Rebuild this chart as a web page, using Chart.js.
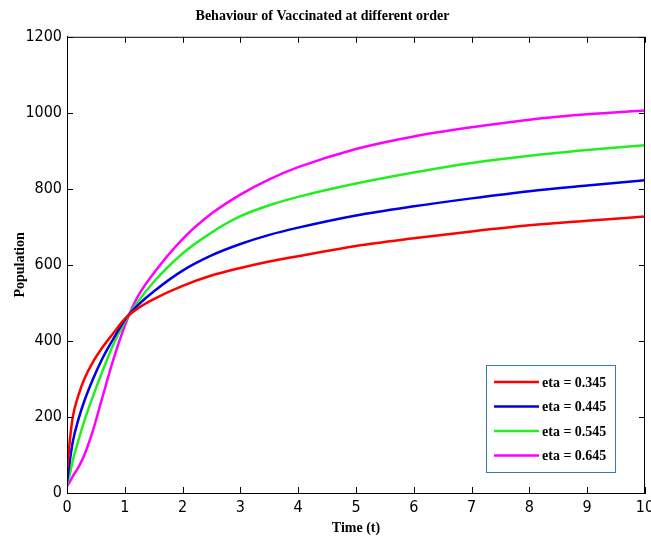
<!DOCTYPE html>
<html lang="en">
<head>
    <meta charset="UTF-8">
    <script src="https://cdn.jsdelivr.net/npm/chart.js"></script>
    <title>Behaviour of Vaccinated at different order</title>
    <style>
      body { margin: 0; background: #fff; }
      #wrap { width: 651px; height: 547px; }
    </style>
</head>
<body>
    <div id="wrap">
      <canvas id="myChart"></canvas>
    </div>

    <script>
      const timeArr = [0, 0.05, 0.1, 0.2, 0.3, 0.45, 0.6, 0.8, 1.0, 1.2, 1.5, 2, 2.5, 3, 3.5, 4, 5, 6, 7, 8, 9, 10];
      const eta345 = [55, 140, 200, 258, 300, 345, 380, 420, 458, 483, 510, 545, 572, 592, 609, 623, 650, 670, 688, 704, 716, 727];
      const eta445 = [30, 85, 135, 195, 242, 300, 350, 405, 455, 490, 530, 585, 625, 655, 679, 698, 730, 754, 775, 794, 809, 823];
      const eta545 = [25, 50, 85, 140, 190, 255, 315, 390, 450, 498, 555, 630, 685, 728, 757, 779, 814, 843, 868, 887, 902, 915];
      const eta645 = [18, 30, 44, 68, 100, 165, 245, 350, 440, 510, 578, 668, 735, 785, 825, 857, 905, 938, 962, 982, 996, 1006];
      const labels = ['eta = 0.345', 'eta = 0.445', 'eta = 0.545', 'eta = 0.645'];
      const colors = ['#ff0000', '#0000e6', '#22ee22', '#ff00ff'];
      const xTicks = [0, 1, 2, 3, 4, 5, 6, 7, 8, 9, 10];
      const yTicks = [0, 200, 400, 600, 800, 1000, 1200];

      const series = [eta345, eta445, eta545, eta645];
      const tickFont = { family: "'Liberation Sans Narrow', 'DejaVu Sans Condensed', sans-serif", size: 16 };
      const serifBold = { family: "'Liberation Serif', 'DejaVu Serif', serif", size: 14, weight: 'bold' };

      // matlab style box + inward ticks + legend inside the axes
      const matlabFrame = {
        id: 'matlabFrame',
        afterDatasetsDraw(chart) {
          const c = chart.ctx;
          const a = chart.chartArea;
          const xs = chart.scales.x, ys = chart.scales.y;
          c.save();
          c.strokeStyle = '#000';
          c.lineWidth = 1;
          c.strokeRect(a.left + 0.5, a.top + 0.5, a.right - a.left - 1, a.bottom - a.top);
          c.beginPath();
          xTicks.forEach(v => {
            const px = Math.round(xs.getPixelForValue(v)) + 0.5;
            c.moveTo(px, a.bottom); c.lineTo(px, a.bottom - 6);
            c.moveTo(px, a.top); c.lineTo(px, a.top + 6);
          });
          yTicks.forEach(v => {
            const py = Math.round(ys.getPixelForValue(v)) + 0.5;
            c.moveTo(a.left, py); c.lineTo(a.left + 6, py);
            c.moveTo(a.right, py); c.lineTo(a.right - 6, py);
          });
          c.stroke();

          // legend box
          const bw = 129, bh = 107;
          const bx = a.right - 30 - bw, by = a.bottom - 21 - bh;
          c.fillStyle = '#fff';
          c.fillRect(bx, by, bw, bh);
          c.strokeStyle = '#3a7ca5';
          c.strokeRect(bx + 0.5, by + 0.5, bw, bh);
          c.font = "bold 14px 'Liberation Serif', 'DejaVu Serif', serif";
          c.textBaseline = 'middle';
          chart.data.datasets.forEach((ds, i) => {
            const ly = by + 17 + i * 24.5;
            c.strokeStyle = ds.borderColor;
            c.lineWidth = 2.5;
            c.beginPath();
            c.moveTo(bx + 8, ly); c.lineTo(bx + 53, ly);
            c.stroke();
            c.fillStyle = '#000';
            c.fillText(ds.label, bx + 56, ly + 1);
          });
          c.restore();
        }
      };

      new Chart(document.getElementById('myChart'), {
        type: 'line',
        data: {
          datasets: series.map((s, i) => ({
            label: labels[i],
            data: timeArr.map((t, j) => ({ x: t, y: s[j] })),
            borderColor: colors[i],
            backgroundColor: colors[i],
            borderWidth: 2.5,
            pointRadius: 0,
            cubicInterpolationMode: 'monotone'
          }))
        },
        options: {
          responsive: true,
          maintainAspectRatio: false,
          animation: false,
          layout: { padding: { right: 6 } },
          plugins: {
            legend: { display: false },
            tooltip: { enabled: false },
            title: {
              display: true,
              text: 'Behaviour of Vaccinated at different order',
              color: '#000',
              font: serifBold,
              padding: { top: 8, bottom: 12 }
            }
          },
          scales: {
            x: {
              type: 'linear',
              min: 0, max: 10,
              afterBuildTicks: s => { s.ticks = xTicks.map(v => ({ value: v })); },
              afterFit: s => { s.height = 54; s.paddingRight = 0; s.paddingLeft = 0; },
              grid: { display: true, drawOnChartArea: false, drawTicks: false },
              border: { display: true, color: '#000' },
              ticks: { color: '#000', font: tickFont, padding: 5, maxRotation: 0, callback: v => String(v) },
              title: { display: true, text: 'Time (t)', color: '#000', font: serifBold, padding: { top: 4, bottom: 10 } }
            },
            y: {
              min: 0, max: 1200,
              afterBuildTicks: s => { s.ticks = yTicks.map(v => ({ value: v })); },
              afterFit: s => { s.width = 67; },
              grid: { display: true, drawOnChartArea: false, drawTicks: false },
              border: { display: true, color: '#000' },
              ticks: { color: '#000', font: tickFont, padding: 5, callback: v => String(v) },
              title: { display: true, text: 'Population', color: '#000', font: serifBold, padding: { top: 12, bottom: 4 } }
            }
          }
        },
        plugins: [matlabFrame]
      });
    </script>
</body>
</html>
